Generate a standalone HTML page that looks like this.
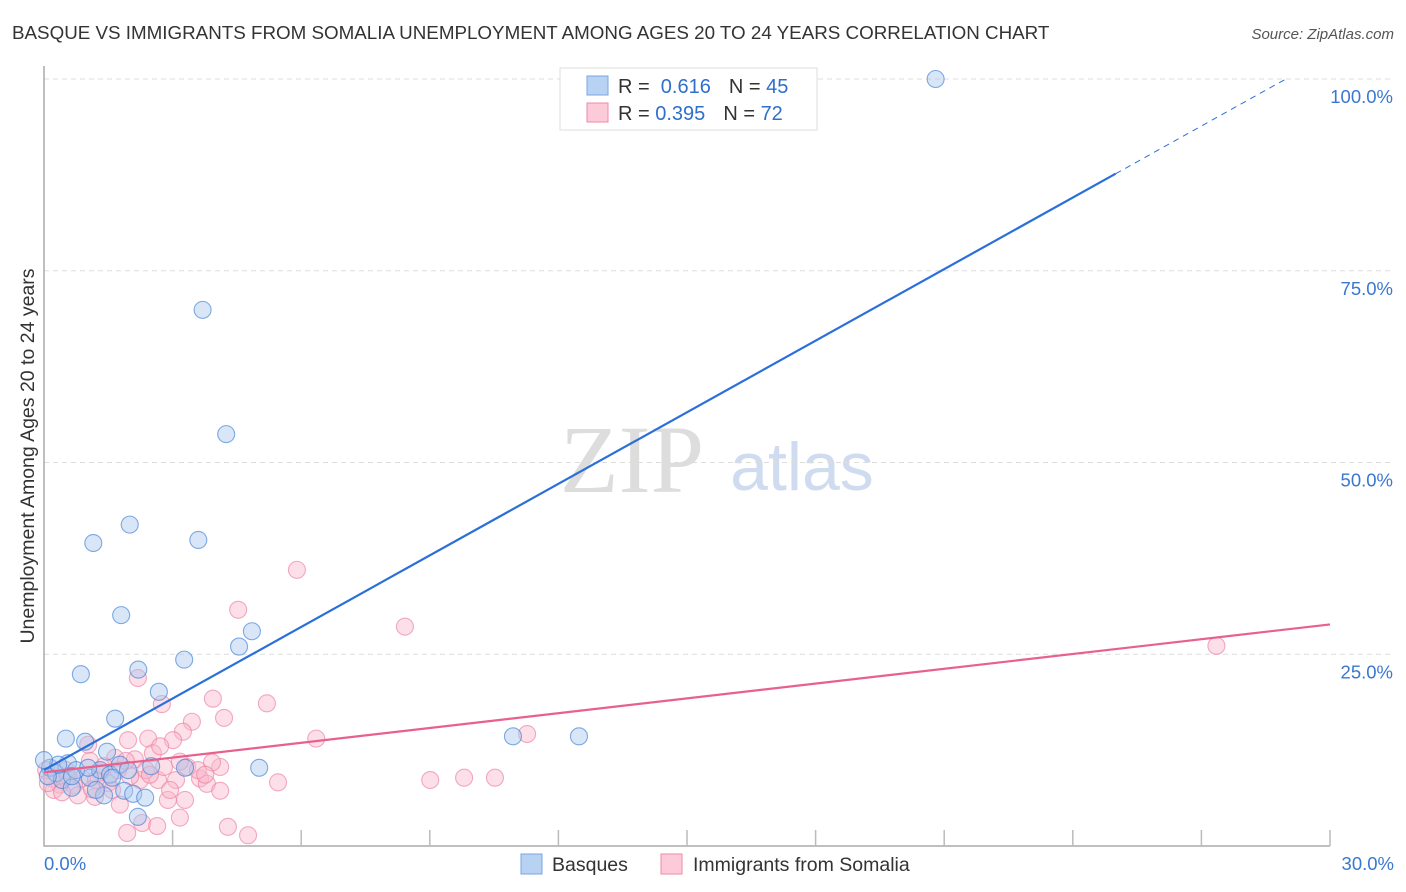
<!DOCTYPE html>
<html><head><meta charset="utf-8">
<style>
body{margin:0;background:#fff;font-family:"Liberation Sans",sans-serif;}
#wrap{position:relative;width:1406px;height:892px;overflow:hidden;}
</style></head>
<body>
<div id="wrap">
<svg id="svg" width="1406" height="892" xmlns="http://www.w3.org/2000/svg">
<text x="12" y="39" font-size="18.8" fill="#333">BASQUE VS IMMIGRANTS FROM SOMALIA UNEMPLOYMENT AMONG AGES 20 TO 24 YEARS CORRELATION CHART</text>
<text x="1394" y="39" font-size="15" fill="#555" font-style="italic" text-anchor="end">Source: ZipAtlas.com</text>
<text x="34" y="456" font-size="19.5" fill="#333" text-anchor="middle" transform="rotate(-90 34 456)">Unemployment Among Ages 20 to 24 years</text>
<text x="632" y="492" font-size="96" fill="#ddd" font-family="Liberation Serif,serif" text-anchor="middle">ZIP</text>
<text x="802" y="490" font-size="68" fill="#cfdcf0" text-anchor="middle">atlas</text>
<g id="grid"></g><g id="pts"></g><g id="lines"></g>
<g>
<rect x="560" y="68" width="257" height="62" fill="#fff" stroke="#ddd"/>
<rect x="587" y="76" width="21" height="19" fill="#b8d2f4" stroke="#7aa5e0"/>
<rect x="587" y="103" width="21" height="19" fill="#fccad8" stroke="#f08aa8"/>
<text x="618" y="93" font-size="20" fill="#333">R = <tspan fill="#2f6fcc">&#160;0.616</tspan><tspan dx="18">N = </tspan><tspan fill="#2f6fcc">45</tspan></text>
<text x="618" y="120" font-size="20" fill="#333">R = <tspan fill="#2f6fcc">0.395</tspan><tspan dx="18">N = </tspan><tspan fill="#2f6fcc">72</tspan></text>
</g>
<g>
<rect x="521" y="854" width="21" height="20" fill="#b8d2f4" stroke="#7aa5e0"/>
<text x="552" y="871" font-size="19.5" fill="#333">Basques</text>
<rect x="661" y="854" width="21" height="20" fill="#fccad8" stroke="#f08aa8"/>
<text x="693" y="871" font-size="19.5" fill="#333">Immigrants from Somalia</text>
</g>
</svg>
</div>
<script>
const yTicks=[25,50,75,100];
const yTickLabels=["25.0%","50.0%","75.0%","100.0%"];
const xTicks=[0,3,6,9,12,15,18,21,24,27,30];
const basqueX=[20.8,3.7,4.25,2.0,1.15,3.6,1.8,4.85,4.55,0.86,2.2,3.27,2.68,1.66,0.51,0.96,1.47,2.5,5.02,10.94,12.48,0.14,0.28,0.42,0.65,1.07,1.31,1.54,1.77,1.96,1.4,1.87,2.08,2.36,2.19,3.29,0.56,0.75,0.09,1.21,1.59,0.33,1.03,0.0,0.65];
const basqueY=[100,69.9,53.7,41.9,39.5,39.9,30.1,28.0,26.0,22.4,23.0,24.3,20.1,16.6,14.0,13.6,12.3,10.4,10.2,14.3,14.3,10.2,9.5,8.6,7.6,8.9,9.9,9.3,10.6,9.9,6.6,7.2,6.8,6.3,3.8,10.2,10.8,9.9,9.1,7.3,8.9,10.6,10.2,11.2,9.1];
const somaliaX=[27.35,5.9,4.53,8.42,2.19,2.75,3.94,5.2,3.45,4.2,3.24,3.01,6.35,2.43,1.96,11.27,9.01,9.8,10.52,5.46,3.34,4.11,3.92,3.64,3.8,4.11,3.08,2.54,2.66,2.12,2.24,1.73,1.49,1.19,1.77,1.94,2.29,2.64,2.89,3.29,3.17,4.29,4.76,1.66,1.07,1.31,0.89,0.7,0.37,0.19,0.05,0.51,1.03,1.59,2.01,2.38,2.8,2.94,3.59,3.76,0.23,0.56,0.79,1.21,1.4,1.91,2.47,2.71,3.17,1.12,0.42,0.09];
const somaliaY=[26.1,36.0,30.8,28.6,21.9,18.5,19.2,18.6,16.2,16.7,14.9,13.8,14.0,14.0,13.8,14.6,8.6,8.9,8.9,8.3,10.3,10.3,10.9,8.8,8.1,7.2,8.6,12.1,8.6,11.3,8.6,9.9,8.2,6.4,5.4,1.7,3.0,2.6,6.0,6.0,3.7,2.5,1.4,11.5,11.1,9.6,8.8,7.9,8.0,8.8,9.9,9.9,13.2,7.3,9.1,9.9,10.3,7.3,9.9,9.3,7.3,9.1,6.6,8.6,10.4,11.1,9.3,13.0,11.0,7.4,7.0,8.2];
const basqueFit=[9.9,3.11];
const somaliaFit=[9.6,0.643];
const NS='http://www.w3.org/2000/svg';
const X=v=>44+v/30*1286, Y=v=>846-v*7.67;
function mk(tag,attrs,parent){const e=document.createElementNS(NS,tag);for(const k in attrs)e.setAttribute(k,attrs[k]);parent.appendChild(e);return e;}
const grid=document.getElementById('grid'),pts=document.getElementById('pts'),lines=document.getElementById('lines');
yTicks.forEach((t,i)=>{
 const l=mk('line',{x1:44,x2:1394,y1:Y(t),y2:Y(t),stroke:'#ddd','stroke-dasharray':'5,4'},grid);
 
 
 const tx=mk('text',{x:1393,y:Y(t)+24,'font-size':18.5,fill:'#3a78d0','text-anchor':'end'},grid);
 tx.textContent=yTickLabels[i];
 
 
});
const ax=mk('path',{d:'M44 66 V846 H1330',fill:'none',stroke:'#aaa','stroke-width':1.5},grid);


xTicks.forEach(t=>{
 const l=mk('line',{x1:X(t),x2:X(t),y1:830,y2:846,stroke:'#bbb','stroke-width':1.5},grid);
 
 
});
const xl0=mk('text',{x:44,y:870,'font-size':18.5,fill:'#3a78d0'},grid);xl0.textContent='0.0%';


const xl1=mk('text',{x:1394,y:870,'font-size':18.5,fill:'#3a78d0','text-anchor':'end'},grid);xl1.textContent='30.0%';


function dots(xs,ys,fill,stroke,name){xs.forEach((x,i)=>{
 const c=mk('circle',{cx:X(x),cy:Y(ys[i]),r:8.5,fill:fill,'fill-opacity':0.45,stroke:stroke,'stroke-width':1.1,'stroke-opacity':0.65},pts);
 
 
});}
dots(somaliaX,somaliaY,'#f9b8cb','#ec7fa0','somalia-point');
dots(basqueX,basqueY,'#a8c8f0','#3f7fd6','basque-point');
const bEnd=25;
const bl=mk('line',{x1:X(0),y1:Y(basqueFit[0]),x2:X(bEnd),y2:Y(basqueFit[0]+basqueFit[1]*bEnd),stroke:'#2a70d8','stroke-width':2.2},lines);


const bd=mk('line',{x1:X(bEnd),y1:Y(basqueFit[0]+basqueFit[1]*bEnd),x2:X(29),y2:Y(basqueFit[0]+basqueFit[1]*29),stroke:'#2a70d8','stroke-width':1,'stroke-dasharray':'6,5'},lines);


const pl=mk('line',{x1:X(0),y1:Y(somaliaFit[0]),x2:X(30),y2:Y(somaliaFit[0]+somaliaFit[1]*30),stroke:'#e8608c','stroke-width':2.2},lines);


</script>
</body></html>
